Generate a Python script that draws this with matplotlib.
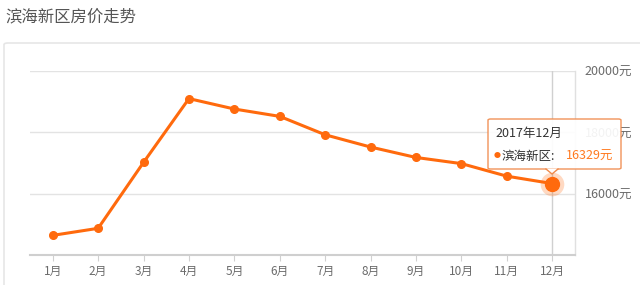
import matplotlib
matplotlib.use("Agg")
import matplotlib.pyplot as plt
from matplotlib.patches import FancyBboxPatch, Polygon

plt.rcParams['font.family'] = ['Noto Sans CJK SC', 'DejaVu Sans']

months = ['1月', '2月', '3月', '4月', '5月', '6月', '7月', '8月', '9月', '10月', '11月', '12月']
prices = [14640, 14870, 17020, 19100, 18760, 18520, 17920, 17520, 17180, 16980, 16570, 16329]
yticks = [16000, 18000, 20000]
title = '滨海新区房价走势'
series_name = '滨海新区'
tip_title = '2017年12月'

line_color = '#ff6a0d'
grid_color = '#e3e3e3'
text_color = '#6b6b6b'

W, H = 640, 285
fig = plt.figure(figsize=(W / 100, H / 100), dpi=100)

def px(x, y):
    # pixel coords (top-left origin) -> figure fraction
    return x / W, 1 - y / H

# outer panel box
p0 = px(4, 292)
panel = FancyBboxPatch(p0, (660 - 4) / W, (292 - 43) / H,
                       boxstyle='round,pad=0,rounding_size=0.006',
                       transform=fig.transFigure, fc='white', ec='#e6e6e6', lw=1.2,
                       zorder=-5)
fig.patches.append(panel)

fig.text(*px(5, 17), title, fontsize=11.8, color='#555555', va='center', ha='left')

l, b = px(30, 255)
r, t = px(575, 71)
ax = fig.add_axes([l, b, r - l, t - b])
x = list(range(len(months)))
ax.set_xlim(-0.5, len(months) - 0.5)
ax.set_ylim(14000, 20000)

ax.plot(x, prices, color=line_color, lw=2.2, marker='o', ms=5.5, mec=line_color,
        zorder=3, solid_capstyle='round')
ax.plot(x[-1], prices[-1], 'o', ms=17, color=line_color, alpha=0.25, mew=0, zorder=4)
ax.plot(x[-1], prices[-1], 'o', ms=10, color=line_color, zorder=5)

# hover crosshair
ax.axvline(x[-1], color='#d0d0d0', lw=1, zorder=1)

ax.set_yticks(yticks)
ax.set_yticklabels([f'{v}元' for v in yticks])
ax.yaxis.tick_right()
ax.tick_params(axis='y', length=0, pad=7, labelsize=9, labelcolor=text_color)
ax.set_xticks(x)
ax.set_xticklabels(months)
ax.tick_params(axis='x', length=4, width=0.8, color='#d0d0d0', pad=3,
               labelsize=8.5, labelcolor=text_color)
ax.grid(axis='y', color=grid_color, lw=1)
ax.set_axisbelow(True)
for s in ['top', 'left']:
    ax.spines[s].set_visible(False)
ax.spines['bottom'].set_color('#cfcfcf')
ax.spines['bottom'].set_linewidth(1.5)
ax.spines['right'].set_color('#e0e0e0')
ax.spines['right'].set_linewidth(1)
ax.patch.set_alpha(0)

# tooltip
bx0, by0 = px(488, 169)
bx1, by1 = px(621, 119)
tip = FancyBboxPatch((bx0, by0), bx1 - bx0, by1 - by0,
                     boxstyle='round,pad=0,rounding_size=0.004',
                     transform=fig.transFigure, fc='white', ec='#f08a4b', lw=1,
                     alpha=0.92, zorder=10)
fig.add_artist(tip)
arrow = Polygon([px(546, 168.5), px(558, 168.5), px(552, 174)], closed=True,
                transform=fig.transFigure, fc='white', ec='none', zorder=11)
fig.add_artist(arrow)
fig.add_artist(plt.Line2D([px(546, 169)[0], px(552, 174)[0], px(558, 169)[0]],
                          [px(546, 169)[1], px(552, 174)[1], px(558, 169)[1]],
                          transform=fig.transFigure, color='#f08a4b', lw=1, zorder=12))
fig.text(*px(495, 133), tip_title, fontsize=9, color='#333333', va='center', ha='left', zorder=13)
fig.text(*px(494, 156), '●', fontsize=5, color=line_color, va='center', ha='left', zorder=13)
fig.text(*px(502, 156), series_name + ':', fontsize=9, color='#333333', va='center', ha='left', zorder=13)
fig.text(*px(613, 156), f'{prices[-1]}元', fontsize=9, color='#ff7a20', va='center', ha='right', zorder=13)

fig.savefig('out.png', dpi=100)
